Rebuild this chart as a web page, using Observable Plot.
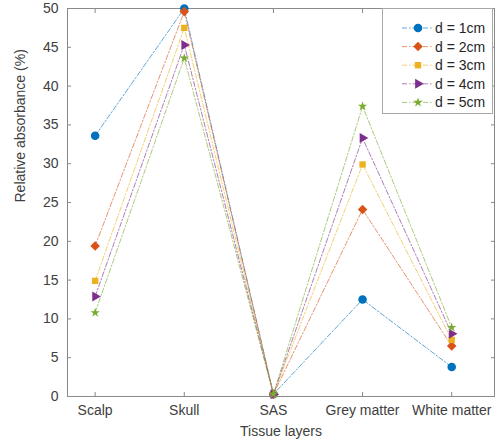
<!DOCTYPE html>
<html>
<head>
<meta charset="utf-8">
<script src="https://cdn.jsdelivr.net/npm/d3@7"></script>
<script src="https://cdn.jsdelivr.net/npm/@observablehq/plot@0.6"></script>
<style>
  body { margin: 0; background: white; }
  #wrap { position: relative; width: 498px; height: 447px; font-family: "Liberation Sans", Arial, sans-serif; }
  #legend { position: absolute; left: 382px; top: 8px; width: 111px; height: 106px; background: white; border: 1px solid #a8a8a8; box-sizing: border-box; }
</style>
</head>
<body>
<div id="wrap"></div>
<script>
const categories = ["Scalp", "Skull", "SAS", "Grey matter", "White matter"];
const seriesNames = ["d = 1cm", "d = 2cm", "d = 3cm", "d = 4cm", "d = 5cm"];
const d1cm = [33.6, 50.0, 0.3, 12.5, 3.8];
const d2cm = [19.4, 49.6, 0.3, 24.1, 6.5];
const d3cm = [14.9, 47.5, 0.3, 29.9, 7.3];
const d4cm = [12.9, 45.3, 0.3, 33.3, 8.1];
const d5cm = [10.8, 43.6, 0.3, 37.4, 8.9];
const yTicks = [0, 5, 10, 15, 20, 25, 30, 35, 40, 45, 50];
const xTitle = "Tissue layers";
const yTitle = "Relative absorbance (%)";

const colors = ["#0072BD", "#D95319", "#EDB120", "#7E2F8E", "#77AC30"];
const symbols = ["circle", "diamond2", "square", "triangle", "star"];
const radii = [4.3, 4.3, 3.6, 3.7, 3.0];
const rotations = [0, 0, 0, 90, 0];
const allSeries = [d1cm, d2cm, d3cm, d4cm, d5cm];
const xIdx = categories.map((c, i) => i + 1);

const seriesMarks = [];
allSeries.forEach((vals, s) => {
  const data = vals.map((v, i) => ({x: xIdx[i], y: v}));
  seriesMarks.push(Plot.line(data, {x: "x", y: "y", stroke: colors[s], strokeWidth: 0.85, strokeOpacity: 0.75, strokeDasharray: "5,2,1.5,2"}));
  seriesMarks.push(Plot.dot(data, {x: "x", y: "y", symbol: symbols[s], r: radii[s], fill: colors[s], stroke: "none", rotate: rotations[s]}));
});

const blank = () => "";
const chart = Plot.plot({
  width: 498,
  height: 447,
  marginLeft: 67,
  marginRight: 4,
  marginTop: 8,
  marginBottom: 51,
  style: {fontFamily: "'Liberation Sans', Arial, sans-serif", fontSize: "14px", color: "#404040", background: "white", overflow: "visible"},
  x: {type: "linear", domain: [0.69, 5.48]},
  y: {domain: [0, 50]},
  marks: [
    Plot.axisX({anchor: "bottom", ticks: xIdx, tickFormat: i => categories[i - 1], tickSize: 0, tickPadding: 9, label: null}),
    Plot.axisY({anchor: "left", ticks: yTicks, tickSize: 0, tickPadding: 9, label: null}),
    Plot.axisX({anchor: "bottom", ticks: xIdx, tickFormat: blank, tickSize: 4, dy: -4, stroke: "#888", label: null}),
    Plot.axisX({anchor: "top", ticks: xIdx, tickFormat: blank, tickSize: 4, dy: 4, stroke: "#888", label: null}),
    Plot.axisY({anchor: "left", ticks: yTicks, tickFormat: blank, tickSize: 4, dx: 4, stroke: "#888", label: null}),
    Plot.axisY({anchor: "right", ticks: yTicks, tickFormat: blank, tickSize: 4, dx: -4, stroke: "#888", label: null}),
    Plot.frame({stroke: "#8a8a8a"}),
    Plot.text([xTitle], {frameAnchor: "bottom", dy: 39, fill: "#404040", fontSize: 14}),
    Plot.text([yTitle], {frameAnchor: "left", dx: -47, rotate: -90, fill: "#404040", fontSize: 14}),
    ...seriesMarks
  ]
});
const wrap = document.getElementById("wrap");
wrap.appendChild(chart);

// Legend overlay
const legend = document.createElement("div");
legend.id = "legend";
wrap.appendChild(legend);
const lsvg = d3.select(legend).append("svg").attr("width", 109).attr("height", 104);
const d3sym = {circle: d3.symbolCircle, diamond2: d3.symbolDiamond2, square: d3.symbolSquare, triangle: d3.symbolTriangle, star: d3.symbolStar};
seriesNames.forEach((name, s) => {
  const cy = 19 + s * 18.6;
  const g = lsvg.append("g").attr("transform", `translate(0,${cy})`);
  g.append("line").attr("x1", 19).attr("x2", 50).attr("y1", 0).attr("y2", 0)
    .attr("stroke", colors[s]).attr("stroke-width", 0.85).attr("stroke-opacity", 0.75).attr("stroke-dasharray", "5,2,1.5,2");
  g.append("path").attr("d", d3.symbol(d3sym[symbols[s]], Math.PI * radii[s] * radii[s])())
    .attr("transform", `translate(35,0) rotate(${rotations[s]})`).attr("fill", colors[s]);
  g.append("text").attr("x", 52).attr("y", 0).attr("dy", "0.35em")
    .attr("font-family", "'Liberation Sans', Arial, sans-serif").attr("font-size", 14).attr("fill", "#262626").text(name);
});
</script>
</body>
</html>
